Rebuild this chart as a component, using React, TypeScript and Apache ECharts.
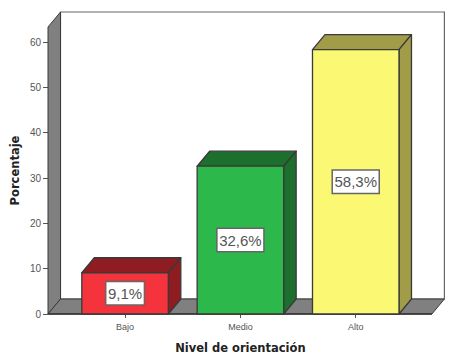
import React, { useEffect, useRef } from "react";
import * as echarts from "echarts";

const categories = ["Bajo", "Medio", "Alto"];
const percentages = [9.1, 32.6, 58.3];
const frontColors = ["#F4333C", "#2DB84B", "#FBF873"];
const sideColors = ["#8E1C20", "#1C6F2D", "#A09C48"];
const xAxisTitle = "Nivel de orientación";
const yAxisTitle = "Porcentaje";

const DX = 12.5;
const DY = 15;
const LEFT_OFFSET = 19.4;
const WALL_EXTRA_TOP = 15;
const RIGHT_EXTRA = 18.5;
const EDGE = "#3A3A3A";

const renderWalls = (params: any, api: any) => {
  const cs = params.coordSys;
  const x0 = cs.x - LEFT_OFFSET;
  const x1 = cs.x + cs.width + RIGHT_EXTRA;
  const yb = cs.y + cs.height;
  const yt = cs.y - WALL_EXTRA_TOP;
  const wallStyle = { fill: "#808080", stroke: EDGE, lineWidth: 1 };
  return {
    type: "group",
    children: [
      {
        type: "rect",
        shape: { x: x0 + DX, y: yt - DY, width: x1 - x0, height: yb - yt },
        style: { fill: "#FFFFFF", stroke: "#666666", lineWidth: 1.2 },
      },
      {
        type: "polygon",
        shape: { points: [[x0, yt], [x0 + DX, yt - DY], [x0 + DX, yb - DY], [x0, yb]] },
        style: wallStyle,
      },
      {
        type: "polygon",
        shape: { points: [[x0, yb], [x0 + DX, yb - DY], [x1 + DX, yb - DY], [x1, yb]] },
        style: wallStyle,
      },
      {
        type: "line",
        shape: { x1: x0, y1: yb, x2: x1, y2: yb },
        style: { stroke: "#333333", lineWidth: 1.5 },
      },
    ],
  };
};

const renderBar = (params: any, api: any) => {
  const idx = api.value(0);
  const val = api.value(1);
  const top = api.coord([idx, val]);
  const base = api.coord([idx, 0]);
  const w = api.size([1, 0])[0] * 0.75;
  const l = top[0] - w / 2;
  const r = top[0] + w / 2;
  const t = top[1];
  const b = base[1];
  const edge = { stroke: EDGE, lineWidth: 1.3, lineJoin: "round" };
  const side = sideColors[idx];
  return {
    type: "group",
    children: [
      {
        type: "polygon",
        shape: { points: [[l, t], [l + DX, t - DY], [r + DX, t - DY], [r, t]] },
        style: { fill: side, ...edge },
      },
      {
        type: "polygon",
        shape: { points: [[r, t], [r + DX, t - DY], [r + DX, b - DY], [r, b]] },
        style: { fill: side, ...edge },
      },
      {
        type: "rect",
        shape: { x: l, y: t, width: w, height: b - t },
        style: { fill: frontColors[idx], ...edge },
      },
      {
        type: "text",
        x: top[0],
        y: (t + b) / 2,
        style: {
          text: `${String(val).replace(".", ",")}%`,
          align: "center",
          verticalAlign: "middle",
          fontFamily: "Liberation Sans",
          fontSize: 15,
          fill: "#555555",
          backgroundColor: "#FFFFFF",
          borderColor: "#666666",
          borderWidth: 1.5,
          padding: [4, 1.5, 3, 1.5],
        },
      },
    ],
  };
};

export default function App() {
  const ref = useRef<HTMLDivElement>(null);
  useEffect(() => {
    const chart = echarts.init(ref.current!, undefined, { renderer: "svg" });
    chart.setOption({
      animation: false,
      backgroundColor: "#FFFFFF",
      grid: { left: 67.4, width: 346, top: 42, height: 272, outerBoundsMode: "none" },
      xAxis: {
        type: "category",
        data: categories,
        name: xAxisTitle,
        nameLocation: "middle",
        nameGap: 28,
        nameMoveOverlap: false,
        nameTextStyle: { fontFamily: "DejaVu Sans", fontWeight: "bold", fontSize: 11.5, color: "#222222" },
        axisLine: { show: false },
        axisTick: { show: true, alignWithLabel: true, length: 4, lineStyle: { color: "#555555" } },
        axisLabel: { fontFamily: "Liberation Sans", fontSize: 9, color: "#555555", margin: 8 },
        splitLine: { show: false },
      },
      yAxis: {
        type: "value",
        min: 0,
        max: 60,
        interval: 10,
        offset: LEFT_OFFSET,
        name: yAxisTitle,
        nameLocation: "middle",
        nameGap: 27,
        nameRotate: 90,
        nameMoveOverlap: false,
        nameTextStyle: { fontFamily: "DejaVu Sans", fontWeight: "bold", fontSize: 11.5, color: "#222222", padding: [0, 0, 0, 15] },
        axisLine: { show: false },
        axisTick: { show: true, length: 5, lineStyle: { color: "#555555" } },
        axisLabel: { fontFamily: "Liberation Sans", fontSize: 10, color: "#555555", margin: 7 },
        splitLine: { show: false },
      },
      series: [
        { type: "custom", z: 1, silent: true, renderItem: renderWalls, data: [[0, 0]], encode: { x: 0, y: 1 } },
        {
          type: "custom",
          z: 2,
          silent: true,
          renderItem: renderBar,
          data: percentages.map((v, i) => [i, v]),
          encode: { x: 0, y: 1 },
        },
      ],
    });
    return () => chart.dispose();
  }, []);
  return <div ref={ref} style={{ position: "fixed", left: 0, top: 0, width: 456, height: 358 }} />;
}
